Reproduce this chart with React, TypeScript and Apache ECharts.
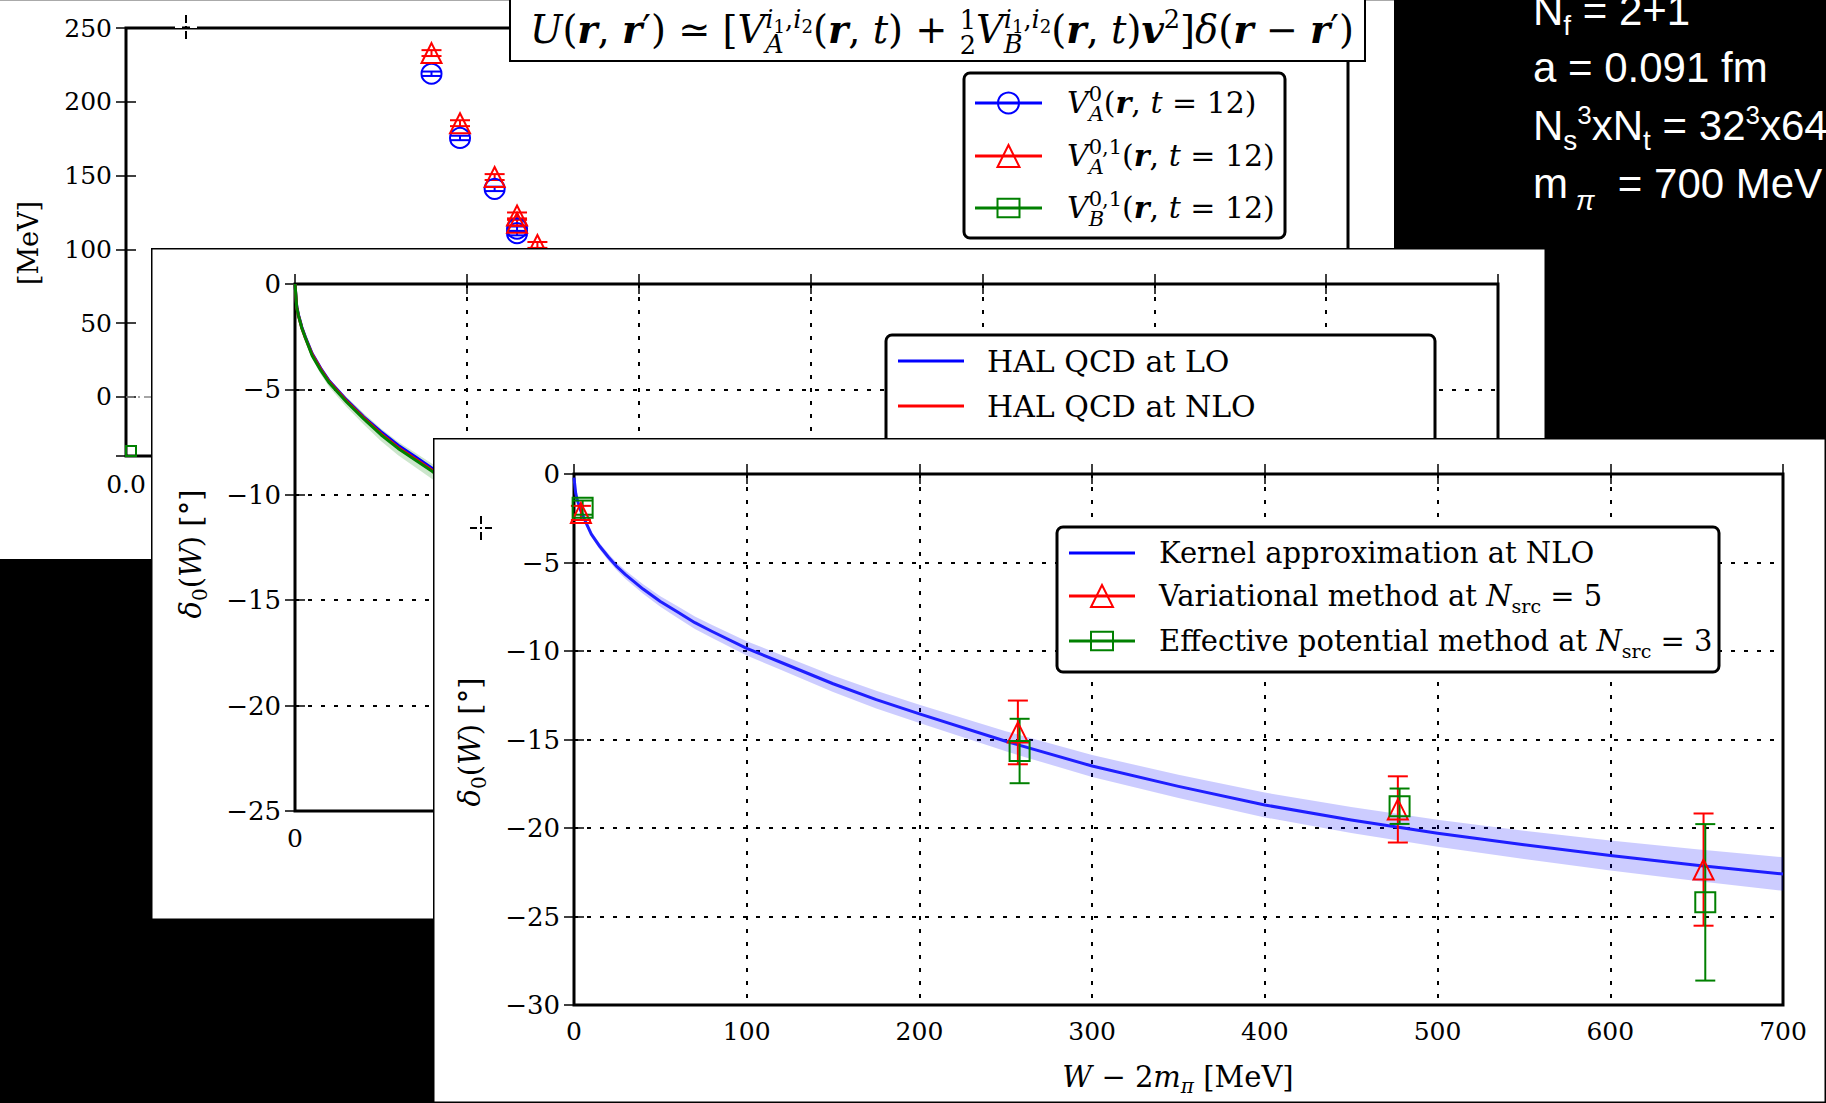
import React, { useEffect, useRef } from 'react';
import * as echarts from 'echarts';

// ======================= DATA =======================
// Panel 1 (back): potentials [MeV] against r [fm] (visible part only)
const p1XRange = { min: 0, max: 3, interval: 0.5 };
const p1YRange = { min: -40, max: 250, splitNumber: 6 };
const p1TriR = [0.75, 0.82, 0.905, 0.96, 0.96, 1.01];
const p1TriV = [233, 185.5, 149, 123, 118, 103];
const p1TriErr = [2, 2, 2, 2, 2, 2];
const p1CircR = [0.75, 0.82, 0.905, 0.96, 0.96];
const p1CircV = [219, 175.5, 141, 114, 111];
const p1CircErr = [1.5, 1.5, 1.5, 1.5, 1.5];
const p1SqR = [0.0];
const p1SqV = [-40];
const p1RefR = [0, 3];
const p1RefV = [0, 0];

// Panel 2 (middle): phase shift, LO / NLO / third curve (visible part)
const p2XRange = { min: 0, max: 700, interval: 100 };
const p2YRange = { min: -25, max: 0, interval: 5 };
const p2X = [0, 1, 2, 4, 6, 10, 15, 20, 25, 30, 40, 50, 60, 70, 80, 90, 100];
const p2LO = [0, -1.05, -1.45, -2.05, -2.5, -3.3, -4.0, -4.6, -5.05, -5.5, -6.3, -7.0, -7.65, -8.2, -8.75, -9.25, -9.75];
const p2NLO = [0, -1.1, -1.5, -2.1, -2.55, -3.35, -4.05, -4.65, -5.1, -5.55, -6.35, -7.1, -7.75, -8.3, -8.85, -9.35, -9.85];
const p2Third = [0, -1.1, -1.5, -2.1, -2.55, -3.4, -4.1, -4.7, -5.15, -5.6, -6.4, -7.15, -7.8, -8.35, -8.9, -9.4, -9.9];
const p2ThirdErr = [0, 0.05, 0.07, 0.1, 0.12, 0.15, 0.18, 0.2, 0.22, 0.24, 0.27, 0.3, 0.32, 0.34, 0.36, 0.38, 0.4];
const p2Legend = ['HAL QCD at LO', 'HAL QCD at NLO'];

// Panel 3 (front): delta_0(W) [deg] against W - 2m_pi [MeV]
const p3XRange = { min: 0, max: 700, interval: 100 };
const p3YRange = { min: -30, max: 0, interval: 5 };
const p3X = [0, 1, 2, 4, 6, 10, 15, 20, 25, 30, 40, 50, 60, 70, 80, 100, 120, 150, 175, 200, 250, 300, 350, 400, 450, 500, 550, 600, 650, 700];
const p3Kernel = [-0.2, -1.1, -1.5, -2.1, -2.55, -3.4, -4.1, -4.7, -5.25, -5.7, -6.5, -7.2, -7.8, -8.4, -8.9, -9.85, -10.65, -11.85, -12.75, -13.55, -15.1, -16.5, -17.65, -18.7, -19.55, -20.3, -20.95, -21.55, -22.1, -22.6];
const p3KernelErr = [0, 0.05, 0.08, 0.1, 0.12, 0.15, 0.18, 0.2, 0.22, 0.24, 0.27, 0.3, 0.33, 0.35, 0.37, 0.4, 0.43, 0.47, 0.5, 0.52, 0.57, 0.62, 0.66, 0.7, 0.73, 0.76, 0.8, 0.85, 0.9, 0.95];
const p3VarX = [4, 257, 477, 654];
const p3VarY = [-2.2, -14.6, -18.95, -22.35];
const p3VarErr = [0.4, 1.8, 1.87, 3.17];
const p3EffX = [5, 258, 478, 655];
const p3EffY = [-1.9, -15.65, -18.77, -24.2];
const p3EffErr = [0.4, 1.82, 1.0, 4.42];

// ======================= HELPERS =======================
const SERIF = '"DejaVu Serif", serif';
const SANS = '"Liberation Sans", Arial, sans-serif';
const BLUE = '#0000ff';
const RED = '#ff0000';
const GREEN = '#008000';

type Piece = { t: string; s: number; i?: boolean; b?: boolean; dy?: number; mark?: boolean; at?: boolean };

let _ctx: CanvasRenderingContext2D | null = null;
function fontOf(p: Piece, fam: string, k = 1) {
  return `${p.i ? 'italic ' : ''}${p.b ? 'bold ' : ''}${(p.s * k).toFixed(2)}px ${fam}`;
}
function textW(text: string, font: string) {
  if (!_ctx) _ctx = document.createElement('canvas').getContext('2d');
  _ctx!.font = font;
  return _ctx!.measureText(text).width;
}
function mathText(
  pieces: Piece[],
  opt: { x: number; y: number; align?: 'left' | 'center'; fam?: string; color?: string; fit?: number; rotation?: number; z?: number }
) {
  const fam = opt.fam || SERIF;
  const pos: number[] = [];
  let cursor = 0;
  let markX = 0;
  for (const p of pieces) {
    const w = textW(p.t, fontOf(p, fam));
    let sx: number;
    if (p.at) {
      sx = markX;
      cursor = Math.max(cursor, sx + w);
    } else {
      sx = cursor;
      if (p.mark) markX = sx;
      cursor = sx + w;
    }
    pos.push(sx);
  }
  const k = opt.fit ? opt.fit / cursor : 1;
  const total = cursor * k;
  const off = opt.align === 'center' ? -total / 2 : 0;
  const z = opt.z ?? 101;
  const children = pieces.map((p, i) => ({
    type: 'text',
    z,
    x: off + pos[i] * k,
    y: (p.dy || 0) * k - 0.346 * p.s * k,
    style: {
      text: p.t,
      font: fontOf(p, fam, k),
      fill: opt.color || '#000',
      align: 'left',
      verticalAlign: 'middle',
      textAlign: 'left',
      textVerticalAlign: 'middle',
    },
  }));
  return { type: 'group', x: opt.x, y: opt.y, rotation: opt.rotation || 0, z, children };
}

const fmt = (d: number) => (v: number) => (v < 0 ? '\u2212' : '') + Math.abs(v).toFixed(d);

function axis(pos: string, cfg: any, o: { labels?: boolean; grid?: boolean; digits?: number; margin?: number; size?: number; extraLabel?: any }) {
  return {
    type: 'value',
    position: pos,
    ...cfg,
    axisLine: { show: false },
    axisTick: { show: true, inside: true, length: 10, lineStyle: { color: '#000', width: 1.5 } },
    axisLabel: {
      show: !!o.labels,
      color: '#000',
      fontFamily: SERIF,
      fontSize: o.size ?? 25,
      margin: o.margin ?? 14,
      formatter: fmt(o.digits ?? 0),
      ...(o.extraLabel || {}),
    },
    splitLine: { show: !!o.grid, lineStyle: { color: '#000', width: 2, type: [4, 9] } },
  };
}

function errSeries(xs: number[], ys: number[], es: number[], color: string, capW = 20, z = 3) {
  return {
    type: 'custom',
    z,
    silent: true,
    data: xs.map((x, i) => [x, ys[i], es[i]]),
    encode: { x: 0, y: 1 },
    renderItem: (_params: any, api: any) => {
      const x = api.value(0);
      const y = api.value(1);
      const e = api.value(2);
      const t = api.coord([x, y + e]);
      const b = api.coord([x, y - e]);
      const style = { stroke: color, lineWidth: 2, fill: 'none' };
      return {
        type: 'group',
        children: [
          { type: 'line', shape: { x1: t[0], y1: t[1], x2: b[0], y2: b[1] }, style },
          { type: 'line', shape: { x1: t[0] - capW / 2, y1: t[1], x2: t[0] + capW / 2, y2: t[1] }, style },
          { type: 'line', shape: { x1: b[0] - capW / 2, y1: b[1], x2: b[0] + capW / 2, y2: b[1] }, style },
        ],
      };
    },
  };
}

function bandSeries(xs: number[], ys: number[], hs: number[], fill: string, z = 1) {
  return {
    type: 'custom',
    z,
    silent: true,
    data: [[xs[0], ys[0]]],
    encode: { x: 0, y: 1 },
    renderItem: (_params: any, api: any) => {
      const upper = xs.map((x, i) => api.coord([x, ys[i] + hs[i]]));
      const lower = xs.map((x, i) => api.coord([x, ys[i] - hs[i]])).reverse();
      return { type: 'polygon', shape: { points: upper.concat(lower) }, style: { fill } };
    },
  };
}

function lineSeries(xs: number[], ys: number[], color: string, width = 3, z = 2) {
  return {
    type: 'line',
    z,
    silent: true,
    showSymbol: false,
    symbol: 'none',
    smooth: false,
    data: xs.map((x, i) => [x, ys[i]]),
    lineStyle: { color, width, join: 'round' },
  };
}

function scatterSeries(xs: number[], ys: number[], color: string, symbol: string, size: any, z = 4) {
  return {
    type: 'scatter',
    z,
    silent: true,
    symbol,
    symbolSize: size,
    data: xs.map((x, i) => [x, ys[i]]),
    itemStyle: { color: 'rgba(0,0,0,0)', borderColor: color, borderWidth: 2, opacity: 1 },
  };
}

function legendSample(x1: number, x2: number, y: number, color: string, marker: string, size: number) {
  const cx = (x1 + x2) / 2;
  const h = size / 2;
  const st = { stroke: color, lineWidth: 2, fill: 'none' };
  const out: any[] = [{ type: 'line', z: 101, shape: { x1, y1: y, x2, y2: y }, style: { stroke: color, lineWidth: 3 } }];
  if (marker === 'circle') out.push({ type: 'circle', z: 101, shape: { cx, cy: y, r: h }, style: st });
  if (marker === 'triangle')
    out.push({ type: 'polygon', z: 101, shape: { points: [[cx, y - h], [cx - h, y + h], [cx + h, y + h]] }, style: st });
  if (marker === 'square') out.push({ type: 'rect', z: 101, shape: { x: cx - h, y: y - h * 0.85, width: size, height: size * 0.85 }, style: st });
  return out;
}

function legendBox(x: number, y: number, w: number, h: number) {
  return { type: 'rect', z: 100, shape: { x, y, width: w, height: h, r: 6 }, style: { fill: '#fff', stroke: '#000', lineWidth: 3 } };
}

function cursorCross(cx: number, cy: number, hColor: string, vColor: string) {
  const ls = (c: string) => ({ stroke: c, lineWidth: 2 });
  return {
    type: 'group',
    x: cx,
    y: cy,
    z: 150,
    children: [
      { type: 'line', z: 150, shape: { x1: -11, y1: 0, x2: -4, y2: 0 }, style: ls(hColor) },
      { type: 'line', z: 150, shape: { x1: 4, y1: 0, x2: 11, y2: 0 }, style: ls(hColor) },
      { type: 'line', z: 150, shape: { x1: 0, y1: -12, x2: 0, y2: -4 }, style: ls(vColor) },
      { type: 'line', z: 150, shape: { x1: 0, y1: 4, x2: 0, y2: 12 }, style: ls(vColor) },
      { type: 'rect', z: 150, shape: { x: -1, y: -1, width: 2, height: 2 }, style: { fill: vColor } },
    ],
  };
}

function frameRect(w: number, h: number) {
  return { type: 'rect', z: 160, shape: { x: 0.75, y: 0.75, width: w - 1.5, height: h - 1.5 }, style: { fill: 'none', stroke: '#000', lineWidth: 1.5 } };
}

const deltaLabel = (): Piece[] => [
  { t: '\u03B4', s: 29, i: true },
  { t: '0', s: 20, dy: 6 },
  { t: '(', s: 29 },
  { t: 'W', s: 29, i: true },
  { t: ')', s: 29 },
  { t: ' [\u00B0]', s: 29 },
];

// ======================= OPTIONS =======================
function makeBase() {
  const L = 42;
  const S = 28;
  const U = 26;
  const c = '#fff';
  return {
    animation: false,
    backgroundColor: '#000',
    graphic: [
      mathText([{ t: 'N', s: L }, { t: 'f', s: S, dy: 10 }, { t: ' = 2+1', s: L }], { x: 1533, y: 25, fam: SANS, color: c }),
      mathText([{ t: 'a = 0.091 fm', s: L }], { x: 1533, y: 82, fam: SANS, color: c }),
      mathText(
        [
          { t: 'N', s: L },
          { t: 's', s: S, dy: 10 },
          { t: '3', s: U, dy: -16 },
          { t: 'xN', s: L },
          { t: 't', s: S, dy: 10 },
          { t: ' = 32', s: L },
          { t: '3', s: U, dy: -16 },
          { t: 'x64', s: L },
        ],
        { x: 1533, y: 140, fam: SANS, color: c }
      ),
      mathText(
        [{ t: 'm', s: L }, { t: ' ', s: S }, { t: '\u03C0', s: S, i: true, dy: 12 }, { t: '  = 700 MeV', s: L }],
        { x: 1533, y: 198, fam: SANS, color: c }
      ),
    ],
  };
}

function makeP1() {
  const M = 36;
  const S = 24;
  const SS = 17;
  const r = (): Piece => ({ t: 'r', s: M, i: true, b: true });
  const sup = (): Piece[] => [
    { t: 'i', s: S, i: true, dy: -14, mark: true },
    { t: '1', s: SS, dy: -10 },
    { t: ',', s: S, dy: -14 },
    { t: 'i', s: S, i: true, dy: -14 },
    { t: '2', s: SS, dy: -10 },
  ];
  const title: Piece[] = [
    { t: 'U', s: M, i: true },
    { t: '(', s: M },
    r(),
    { t: ', ', s: M },
    r(),
    { t: '\u2032', s: M },
    { t: ')', s: M },
    { t: ' \u2243 ', s: M },
    { t: '[', s: M },
    { t: 'V', s: M, i: true },
    ...sup(),
    { t: 'A', s: S, i: true, dy: 9, at: true },
    { t: '(', s: M },
    r(),
    { t: ', ', s: M },
    { t: 't', s: M, i: true },
    { t: ')', s: M },
    { t: ' + ', s: M },
    { t: '1', s: S, dy: -13, mark: true },
    { t: '2', s: S, dy: 10, at: true },
    { t: 'V', s: M, i: true },
    ...sup(),
    { t: 'B', s: S, i: true, dy: 9, at: true },
    { t: '(', s: M },
    r(),
    { t: ', ', s: M },
    { t: 't', s: M, i: true },
    { t: ')', s: M },
    { t: 'v', s: M, i: true, b: true },
    { t: '2', s: S, dy: -14 },
    { t: ']', s: M },
    { t: '\u03B4', s: M, i: true },
    { t: '(', s: M },
    r(),
    { t: ' \u2212 ', s: M },
    r(),
    { t: '\u2032', s: M },
    { t: ')', s: M },
  ];
  const LF = 30;
  const LS = 21;
  const legLabel = (supTxt: string, sub: string): Piece[] => [
    { t: 'V', s: LF, i: true },
    { t: supTxt, s: LS, dy: -12, mark: true },
    { t: sub, s: LS, i: true, dy: 8, at: true },
    { t: '(', s: LF },
    { t: 'r', s: LF, i: true, b: true },
    { t: ', ', s: LF },
    { t: 't', s: LF, i: true },
    { t: ' = 12)', s: LF },
  ];
  const rows = [103, 156, 208];
  return {
    animation: false,
    backgroundColor: '#fff',
    textStyle: { fontFamily: SERIF },
    grid: { left: 126, top: 28, width: 1222, height: 428, show: true, borderColor: '#000', borderWidth: 3, backgroundColor: '#fff' },
    xAxis: [
      axis('bottom', p1XRange, { labels: true, digits: 1, margin: 16 }),
      axis('top', p1XRange, {}),
    ],
    yAxis: [
      axis('left', p1YRange, { labels: true, extraLabel: { showMinLabel: false } }),
      axis('right', p1YRange, {}),
    ],
    series: [
      {
        ...lineSeries(p1RefR, p1RefV, '#888', 1.5, 1),
        lineStyle: { color: '#888', width: 1.5, type: [8, 4, 2, 4] },
      },
      errSeries(p1CircR, p1CircV, p1CircErr, BLUE),
      errSeries(p1TriR, p1TriV, p1TriErr, RED),
      scatterSeries(p1CircR, p1CircV, BLUE, 'circle', 20),
      scatterSeries(p1TriR, p1TriV, RED, 'triangle', 20),
      {
        type: 'custom',
        z: 4,
        silent: true,
        data: p1SqR.map((x, i) => [x, p1SqV[i]]),
        encode: { x: 0, y: 1 },
        renderItem: (params: any, api: any) => {
          const c = api.coord([api.value(0), api.value(1)]);
          const cs = params.coordSys;
          const h = 10;
          const x0 = Math.max(c[0] - h, cs.x);
          const x1 = Math.min(c[0] + h, cs.x + cs.width);
          const y0 = Math.max(c[1] - h, cs.y);
          const y1 = Math.min(c[1] + h, cs.y + cs.height);
          return { type: 'rect', shape: { x: x0, y: y0, width: x1 - x0, height: y1 - y0 }, style: { fill: 'none', stroke: GREEN, lineWidth: 2 } };
        },
      },
    ],
    graphic: [
      { type: 'line', z: 100, shape: { x1: 0, y1: 0.5, x2: 1394, y2: 0.5 }, style: { stroke: '#aaa', lineWidth: 1 } },
      { type: 'rect', z: 100, shape: { x: 510, y: -3, width: 855, height: 64 }, style: { fill: '#fff', stroke: '#000', lineWidth: 2 } },
      mathText(title, { x: 530, y: 43, fit: 824 }),
      legendBox(964, 73, 321, 165),
      ...legendSample(975, 1042, rows[0], BLUE, 'circle', 21),
      ...legendSample(975, 1042, rows[1], RED, 'triangle', 22),
      ...legendSample(975, 1042, rows[2], GREEN, 'square', 22),
      mathText(legLabel('0', 'A'), { x: 1067, y: rows[0] + 10 }),
      mathText(legLabel('0,1', 'A'), { x: 1067, y: rows[1] + 10 }),
      mathText(legLabel('0,1', 'B'), { x: 1067, y: rows[2] + 10 }),
      mathText([{ t: '[MeV]', s: 27 }], { x: 29 + 9, y: 243, align: 'center', rotation: Math.PI / 2 }),
      cursorCross(186, 27, '#fff', '#000'),
    ],
  };
}

function makeP2() {
  const rows = [113, 158];
  return {
    animation: false,
    backgroundColor: '#fff',
    textStyle: { fontFamily: SERIF },
    grid: { left: 144, top: 36, width: 1203, height: 527, show: true, borderColor: '#000', borderWidth: 3, backgroundColor: '#fff' },
    xAxis: [axis('bottom', p2XRange, { labels: true, grid: true, margin: 15 }), axis('top', p2XRange, {})],
    yAxis: [axis('left', p2YRange, { labels: true, grid: true, size: 26 }), axis('right', p2YRange, {})],
    series: [
      bandSeries(p2X, p2Third, p2ThirdErr, 'rgba(0,128,0,0.2)', 1),
      lineSeries(p2X, p2LO, BLUE, 3, 2),
      lineSeries(p2X, p2NLO, RED, 3, 3),
      lineSeries(p2X, p2Third, GREEN, 3, 4),
    ],
    graphic: [
      legendBox(735, 87, 549, 160),
      ...legendSample(747, 813, rows[0], BLUE, 'none', 0),
      ...legendSample(747, 813, rows[1], RED, 'none', 0),
      mathText([{ t: p2Legend[0], s: 30 }], { x: 836, y: rows[0] + 11 }),
      mathText([{ t: p2Legend[1], s: 30 }], { x: 836, y: rows[1] + 11 }),
      mathText(deltaLabel(), { x: 40 + 10, y: 306, align: 'center', rotation: Math.PI / 2 }),
      frameRect(1395, 672),
    ],
  };
}

function makeP3() {
  const rows = [115, 158, 203];
  const lf = 29;
  const nsrc = (v: string): Piece[] => [
    { t: 'N', s: lf, i: true },
    { t: 'src', s: 19, dy: 6 },
    { t: ' = ' + v, s: lf },
  ];
  return {
    animation: false,
    backgroundColor: '#fff',
    textStyle: { fontFamily: SERIF },
    grid: { left: 141, top: 36, width: 1209, height: 531, show: true, borderColor: '#000', borderWidth: 3, backgroundColor: '#fff' },
    xAxis: [axis('bottom', p3XRange, { labels: true, grid: true, margin: 14 }), axis('top', p3XRange, {})],
    yAxis: [axis('left', p3YRange, { labels: true, grid: true, size: 26 }), axis('right', p3YRange, {})],
    series: [
      bandSeries(p3X, p3Kernel, p3KernelErr, 'rgba(0,0,255,0.2)', 1),
      lineSeries(p3X, p3Kernel, 'rgb(30,30,255)', 3, 2),
      errSeries(p3VarX, p3VarY, p3VarErr, RED, 20, 3),
      errSeries(p3EffX, p3EffY, p3EffErr, GREEN, 20, 3),
      scatterSeries(p3VarX, p3VarY, RED, 'triangle', 20, 4),
      scatterSeries(p3EffX, p3EffY, GREEN, 'rect', 20, 5),
    ],
    graphic: [
      legendBox(624, 89, 662, 145),
      ...legendSample(636, 702, rows[0], BLUE, 'none', 0),
      ...legendSample(636, 702, rows[1], RED, 'triangle', 22),
      ...legendSample(636, 702, rows[2], GREEN, 'square', 22),
      mathText([{ t: 'Kernel approximation at NLO', s: lf }], { x: 726, y: rows[0] + 10.5 }),
      mathText([{ t: 'Variational method at ', s: lf }, ...nsrc('5')], { x: 726, y: rows[1] + 10.5 }),
      mathText([{ t: 'Effective potential method at ', s: lf }, ...nsrc('3')], { x: 726, y: rows[2] + 10.5 }),
      mathText(
        [
          { t: 'W', s: 29, i: true },
          { t: ' \u2212 2', s: 29 },
          { t: 'm', s: 29, i: true },
          { t: '\u03C0', s: 20, i: true, dy: 6 },
          { t: ' [MeV]', s: 29 },
        ],
        { x: 745, y: 649, align: 'center' }
      ),
      mathText(deltaLabel(), { x: 37 + 10, y: 304, align: 'center', rotation: Math.PI / 2 }),
      cursorCross(48, 90, '#000', '#000'),
      frameRect(1393, 665),
    ],
  };
}

// ======================= COMPONENTS =======================
function EChart(props: { left: number; top: number; width: number; height: number; make: () => any }) {
  const ref = useRef<HTMLDivElement>(null);
  useEffect(() => {
    const chart = echarts.init(ref.current!, null, { renderer: 'svg' });
    chart.setOption(props.make());
    return () => chart.dispose();
  }, []);
  return (
    <div
      ref={ref}
      style={{ position: 'absolute', left: props.left, top: props.top, width: props.width, height: props.height, overflow: 'hidden' }}
    />
  );
}

export default function App() {
  return (
    <div style={{ position: 'absolute', left: 0, top: 0, width: 1826, height: 1103, background: '#000', overflow: 'hidden' }}>
      <EChart left={0} top={0} width={1826} height={1103} make={makeBase} />
      <EChart left={0} top={0} width={1394} height={559} make={makeP1} />
      <EChart left={151} top={248} width={1395} height={672} make={makeP2} />
      <EChart left={433} top={438} width={1393} height={665} make={makeP3} />
    </div>
  );
}
